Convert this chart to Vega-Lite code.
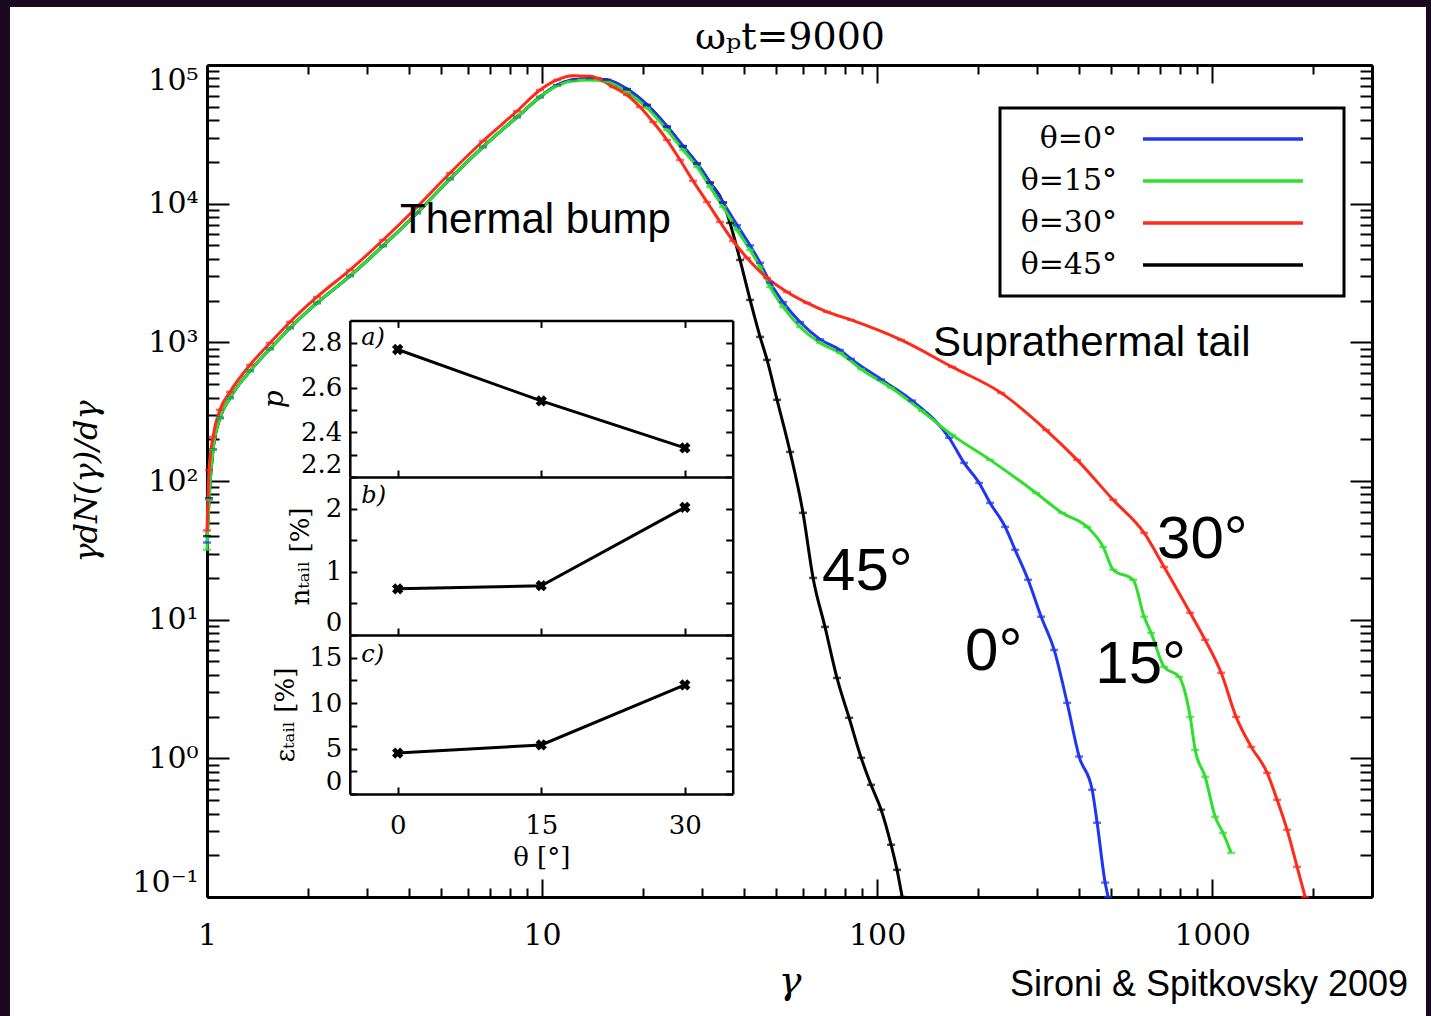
{
  "$schema": "https://vega.github.io/schema/vega-lite/v6.json",
  "width": 1416,
  "height": 1009,
  "autosize": {"type": "none"},
  "padding": {"left": 10, "top": 7, "right": 5, "bottom": 0},
  "background": "#1a0821",
  "config": {
    "view": {"fill": "white", "stroke": null},
    "axis": {"grid": false, "domainColor": "black", "tickColor": "black", "labelColor": "black", "titleColor": "black", "labelOverlap": false},
    "legend": {"labelColor": "black"}
  },
  "datasets": {
    "main": [
      {"s": "θ=45°", "g": 1.0, "v": 40}, {"s": "θ=45°", "g": 1.014, "v": 75}, {"s": "θ=45°", "g": 1.042, "v": 168}, {"s": "θ=45°", "g": 1.093, "v": 285}, {"s": "θ=45°", "g": 1.171, "v": 397}, {"s": "θ=45°", "g": 1.344, "v": 622}, {"s": "θ=45°", "g": 1.542, "v": 896}, {"s": "θ=45°", "g": 1.769, "v": 1270}, {"s": "θ=45°", "g": 2.13, "v": 1923}, {"s": "θ=45°", "g": 2.673, "v": 3013}, {"s": "θ=45°", "g": 3.353, "v": 4955}, {"s": "θ=45°", "g": 4.236, "v": 8570}, {"s": "θ=45°", "g": 5.313, "v": 15070}, {"s": "θ=45°", "g": 6.666, "v": 25650}, {"s": "θ=45°", "g": 8.421, "v": 42170}, {"s": "θ=45°", "g": 9.863, "v": 58750}, {"s": "θ=45°", "g": 11.09, "v": 71500}, {"s": "θ=45°", "g": 12.37, "v": 78000}, {"s": "θ=45°", "g": 13.91, "v": 79500}, {"s": "θ=45°", "g": 15.63, "v": 78000}, {"s": "θ=45°", "g": 17.93, "v": 67000}, {"s": "θ=45°", "g": 20.58, "v": 51500}, {"s": "θ=45°", "g": 23.61, "v": 36000}, {"s": "θ=45°", "g": 26.35, "v": 26000}, {"s": "θ=45°", "g": 29.02, "v": 19500}, {"s": "θ=45°", "g": 31.73, "v": 14200}, {"s": "θ=45°", "g": 34.7, "v": 10200}, {"s": "θ=45°", "g": 36.4, "v": 7260}, {"s": "θ=45°", "g": 38.99, "v": 3925}, {"s": "θ=45°", "g": 41.78, "v": 2021}, {"s": "θ=45°", "g": 44.75, "v": 1094}, {"s": "θ=45°", "g": 46.95, "v": 747}, {"s": "θ=45°", "g": 50.28, "v": 385}, {"s": "θ=45°", "g": 55.0, "v": 162}, {"s": "θ=45°", "g": 60.1, "v": 58.9}, {"s": "θ=45°", "g": 64.4, "v": 20.0}, {"s": "θ=45°", "g": 69.9, "v": 8.87}, {"s": "θ=45°", "g": 75.9, "v": 3.8}, {"s": "θ=45°", "g": 82.5, "v": 1.96}, {"s": "θ=45°", "g": 89.6, "v": 1.01}, {"s": "θ=45°", "g": 95.9, "v": 0.644}, {"s": "θ=45°", "g": 102.8, "v": 0.426}, {"s": "θ=45°", "g": 110.1, "v": 0.238}, {"s": "θ=45°", "g": 114.7, "v": 0.157}, {"s": "θ=45°", "g": 118.8, "v": 0.1},
      {"s": "θ=0°", "g": 1.0, "v": 36}, {"s": "θ=0°", "g": 1.014, "v": 74}, {"s": "θ=0°", "g": 1.042, "v": 168}, {"s": "θ=0°", "g": 1.093, "v": 285}, {"s": "θ=0°", "g": 1.171, "v": 397}, {"s": "θ=0°", "g": 1.344, "v": 622}, {"s": "θ=0°", "g": 1.542, "v": 896}, {"s": "θ=0°", "g": 1.769, "v": 1270}, {"s": "θ=0°", "g": 2.13, "v": 1923}, {"s": "θ=0°", "g": 2.673, "v": 3013}, {"s": "θ=0°", "g": 3.353, "v": 4955}, {"s": "θ=0°", "g": 4.236, "v": 8570}, {"s": "θ=0°", "g": 5.313, "v": 15070}, {"s": "θ=0°", "g": 6.666, "v": 25650}, {"s": "θ=0°", "g": 8.421, "v": 42170}, {"s": "θ=0°", "g": 9.863, "v": 58750}, {"s": "θ=0°", "g": 11.09, "v": 71500}, {"s": "θ=0°", "g": 12.37, "v": 78000}, {"s": "θ=0°", "g": 13.91, "v": 79500}, {"s": "θ=0°", "g": 15.63, "v": 78000}, {"s": "θ=0°", "g": 17.93, "v": 67000}, {"s": "θ=0°", "g": 20.58, "v": 51500}, {"s": "θ=0°", "g": 23.61, "v": 36000}, {"s": "θ=0°", "g": 26.35, "v": 26000}, {"s": "θ=0°", "g": 29.02, "v": 19500}, {"s": "θ=0°", "g": 31.73, "v": 14200}, {"s": "θ=0°", "g": 34.7, "v": 10200}, {"s": "θ=0°", "g": 38.21, "v": 7000}, {"s": "θ=0°", "g": 41.78, "v": 5000}, {"s": "θ=0°", "g": 44.75, "v": 3750}, {"s": "θ=0°", "g": 47.93, "v": 2700}, {"s": "θ=0°", "g": 52.4, "v": 1950}, {"s": "θ=0°", "g": 58.9, "v": 1400}, {"s": "θ=0°", "g": 67.6, "v": 1050}, {"s": "θ=0°", "g": 77.5, "v": 880}, {"s": "θ=0°", "g": 83.6, "v": 760}, {"s": "θ=0°", "g": 102.8, "v": 540}, {"s": "θ=0°", "g": 127.2, "v": 380}, {"s": "θ=0°", "g": 164.0, "v": 205}, {"s": "θ=0°", "g": 181.8, "v": 135}, {"s": "θ=0°", "g": 201.6, "v": 96.8}, {"s": "θ=0°", "g": 217.4, "v": 69.5}, {"s": "θ=0°", "g": 241.1, "v": 46.7}, {"s": "θ=0°", "g": 258.2, "v": 31.9}, {"s": "θ=0°", "g": 282.3, "v": 19.4}, {"s": "θ=0°", "g": 308.8, "v": 10.5}, {"s": "θ=0°", "g": 337.7, "v": 6.05}, {"s": "θ=0°", "g": 369.2, "v": 2.51}, {"s": "θ=0°", "g": 400.9, "v": 1.03}, {"s": "θ=0°", "g": 438.4, "v": 0.593}, {"s": "θ=0°", "g": 453.7, "v": 0.343}, {"s": "θ=0°", "g": 479.3, "v": 0.127}, {"s": "θ=0°", "g": 489.3, "v": 0.1},
      {"s": "θ=15°", "g": 1.0, "v": 31.9}, {"s": "θ=15°", "g": 1.014, "v": 73}, {"s": "θ=15°", "g": 1.042, "v": 168}, {"s": "θ=15°", "g": 1.093, "v": 285}, {"s": "θ=15°", "g": 1.171, "v": 397}, {"s": "θ=15°", "g": 1.344, "v": 622}, {"s": "θ=15°", "g": 1.542, "v": 896}, {"s": "θ=15°", "g": 1.769, "v": 1270}, {"s": "θ=15°", "g": 2.13, "v": 1923}, {"s": "θ=15°", "g": 2.673, "v": 3013}, {"s": "θ=15°", "g": 3.353, "v": 4955}, {"s": "θ=15°", "g": 4.236, "v": 8570}, {"s": "θ=15°", "g": 5.313, "v": 15070}, {"s": "θ=15°", "g": 6.666, "v": 25650}, {"s": "θ=15°", "g": 8.421, "v": 42170}, {"s": "θ=15°", "g": 9.863, "v": 58750}, {"s": "θ=15°", "g": 11.09, "v": 70650}, {"s": "θ=15°", "g": 12.37, "v": 76750}, {"s": "θ=15°", "g": 13.91, "v": 77950}, {"s": "θ=15°", "g": 15.63, "v": 75400}, {"s": "θ=15°", "g": 17.93, "v": 63850}, {"s": "θ=15°", "g": 20.58, "v": 48950}, {"s": "θ=15°", "g": 23.61, "v": 33980}, {"s": "θ=15°", "g": 26.35, "v": 24380}, {"s": "θ=15°", "g": 29.02, "v": 18390}, {"s": "θ=15°", "g": 31.73, "v": 13190}, {"s": "θ=15°", "g": 34.7, "v": 9460}, {"s": "θ=15°", "g": 38.21, "v": 6460}, {"s": "θ=15°", "g": 41.78, "v": 4630}, {"s": "θ=15°", "g": 44.75, "v": 3496}, {"s": "θ=15°", "g": 47.93, "v": 2507}, {"s": "θ=15°", "g": 52.4, "v": 1799}, {"s": "θ=15°", "g": 58.9, "v": 1291}, {"s": "θ=15°", "g": 67.6, "v": 990}, {"s": "θ=15°", "g": 77.5, "v": 839}, {"s": "θ=15°", "g": 89.6, "v": 640}, {"s": "θ=15°", "g": 110.1, "v": 470}, {"s": "θ=15°", "g": 136.2, "v": 320}, {"s": "θ=15°", "g": 167.4, "v": 215}, {"s": "θ=15°", "g": 217.4, "v": 142}, {"s": "θ=15°", "g": 298.3, "v": 82}, {"s": "θ=15°", "g": 356.6, "v": 58.9}, {"s": "θ=15°", "g": 423.6, "v": 46.7}, {"s": "θ=15°", "g": 472.8, "v": 33.5}, {"s": "θ=15°", "g": 506.4, "v": 22.9}, {"s": "θ=15°", "g": 581, "v": 19.4}, {"s": "θ=15°", "g": 626.6, "v": 10.5}, {"s": "θ=15°", "g": 657.4, "v": 8.03}, {"s": "θ=15°", "g": 719, "v": 4.57}, {"s": "θ=15°", "g": 797, "v": 3.87}, {"s": "θ=15°", "g": 860, "v": 1.99}, {"s": "θ=15°", "g": 890, "v": 1.15}, {"s": "θ=15°", "g": 953, "v": 0.736}, {"s": "θ=15°", "g": 1021, "v": 0.379}, {"s": "θ=15°", "g": 1078, "v": 0.29}, {"s": "θ=15°", "g": 1139, "v": 0.208},
      {"s": "θ=30°", "g": 1.0, "v": 44}, {"s": "θ=30°", "g": 1.014, "v": 120}, {"s": "θ=30°", "g": 1.042, "v": 208}, {"s": "θ=30°", "g": 1.093, "v": 326}, {"s": "θ=30°", "g": 1.171, "v": 439}, {"s": "θ=30°", "g": 1.344, "v": 687}, {"s": "θ=30°", "g": 1.542, "v": 990}, {"s": "θ=30°", "g": 1.769, "v": 1403}, {"s": "θ=30°", "g": 2.13, "v": 2125}, {"s": "θ=30°", "g": 2.673, "v": 3327}, {"s": "θ=30°", "g": 3.353, "v": 5470}, {"s": "θ=30°", "g": 4.236, "v": 9460}, {"s": "θ=30°", "g": 5.313, "v": 16630}, {"s": "θ=30°", "g": 6.666, "v": 28300}, {"s": "θ=30°", "g": 8.421, "v": 46500}, {"s": "θ=30°", "g": 9.863, "v": 66000}, {"s": "θ=30°", "g": 11.09, "v": 78000}, {"s": "θ=30°", "g": 12.37, "v": 83500}, {"s": "θ=30°", "g": 13.91, "v": 83000}, {"s": "θ=30°", "g": 14.6, "v": 80500}, {"s": "θ=30°", "g": 16.29, "v": 69350}, {"s": "θ=30°", "g": 17.93, "v": 60800}, {"s": "θ=30°", "g": 19.61, "v": 49800}, {"s": "θ=30°", "g": 21.45, "v": 38800}, {"s": "θ=30°", "g": 23.61, "v": 28770}, {"s": "θ=30°", "g": 25.82, "v": 20650}, {"s": "θ=30°", "g": 28.23, "v": 14590}, {"s": "θ=30°", "g": 31.08, "v": 10280}, {"s": "θ=30°", "g": 33.99, "v": 7380}, {"s": "θ=30°", "g": 37.17, "v": 5380}, {"s": "θ=30°", "g": 40.92, "v": 4060}, {"s": "θ=30°", "g": 46.95, "v": 2914}, {"s": "θ=30°", "g": 53.86, "v": 2307}, {"s": "θ=30°", "g": 61.8, "v": 1923}, {"s": "θ=30°", "g": 70.9, "v": 1656}, {"s": "θ=30°", "g": 83.6, "v": 1451}, {"s": "θ=30°", "g": 117.9, "v": 1041}, {"s": "θ=30°", "g": 167.4, "v": 665}, {"s": "θ=30°", "g": 234.5, "v": 432}, {"s": "θ=30°", "g": 319.6, "v": 233}, {"s": "θ=30°", "g": 395.4, "v": 142}, {"s": "θ=30°", "g": 506.4, "v": 73.1}, {"s": "θ=30°", "g": 626.6, "v": 42.2}, {"s": "θ=30°", "g": 719, "v": 24.0}, {"s": "θ=30°", "g": 860, "v": 11.2}, {"s": "θ=30°", "g": 953, "v": 7.15}, {"s": "θ=30°", "g": 1064, "v": 4.14}, {"s": "θ=30°", "g": 1179, "v": 1.99}, {"s": "θ=30°", "g": 1308, "v": 1.21}, {"s": "θ=30°", "g": 1460, "v": 0.786}, {"s": "θ=30°", "g": 1563, "v": 0.502}, {"s": "θ=30°", "g": 1674, "v": 0.305}, {"s": "θ=30°", "g": 1793, "v": 0.165}, {"s": "θ=30°", "g": 1895, "v": 0.1}
    ],
    "ann42": [
      {"t": "Thermal bump", "g": 3.77, "v": 7620},
      {"t": "Suprathermal tail", "g": 146.9, "v": 991}
    ],
    "ann60": [
      {"t": "45°", "g": 68.5, "v": 22.1},
      {"t": "30°", "g": 685, "v": 37.6},
      {"t": "0°", "g": 183, "v": 5.87},
      {"t": "15°", "g": 448, "v": 4.72}
    ],
    "credit": [
      {"t": "Sironi & Spitkovsky 2009", "g": 3846, "v": 0.0233}
    ],
    "inset": [
      {"theta": 0, "p": 2.77, "n": 0.73, "e": 4.5},
      {"theta": 15, "p": 2.54, "n": 0.78, "e": 5.4},
      {"theta": 30, "p": 2.33, "n": 2.02, "e": 12.0}
    ]
  },
  "layer": [
    {
      "resolve": {"axis": {"x": "independent", "y": "independent"}},
      "layer": [
        {
          "data": {"name": "main"},
          "mark": {"type": "line", "strokeWidth": 3, "interpolate": "monotone", "clip": true},
          "encoding": {
            "x": {"field": "g", "type": "quantitative",
              "scale": {"type": "log", "domain": [1, 3000], "range": [197, 1362], "nice": false},
              "axis": {"orient": "bottom", "offset": -119, "values": [1, 10, 100, 1000], "format": "d", "tickSize": -18, "tickWidth": 2, "domainWidth": 3, "labelPadding": 41, "labelFont": "DejaVu Serif", "labelFontSize": 30, "labelFlush": false, "title": "γ", "titleFont": "DejaVu Serif", "titleFontStyle": "italic", "titleFontSize": 38, "titleFontWeight": "normal", "titlePadding": 12}},
            "y": {"field": "v", "type": "quantitative",
              "scale": {"type": "log", "domain": [0.1, 100000], "range": [890, 58], "nice": false},
              "axis": {"orient": "left", "offset": -197, "values": [0.1, 1, 10, 100, 1000, 10000, 100000], "labelExpr": "'10' + ['⁻¹','⁰','¹','²','³','⁴','⁵'][round(log(datum.value)/LN10)+1]", "tickSize": -22, "tickWidth": 2, "domainWidth": 3, "labelPadding": 31, "labelFont": "DejaVu Serif", "labelFontSize": 30, "labelFlush": true, "title": "γdN(γ)/dγ", "titleFont": "DejaVu Serif", "titleFontStyle": "italic", "titleFontSize": 32, "titleFontWeight": "normal", "titlePadding": 28}},
            "color": {"field": "s", "type": "nominal",
              "scale": {"domain": ["θ=0°", "θ=15°", "θ=30°", "θ=45°"], "range": ["#2036f0", "#2ee02e", "#ff2a1a", "#000000"]},
              "legend": {"orient": "none", "legendX": 990, "legendY": 101, "title": null, "symbolType": "M 11.2 0 L 27.2 0 M 29 0", "symbolSize": 400, "symbolStrokeWidth": 3.5, "labelFont": "DejaVu Serif", "labelFontSize": 30, "labelAlign": "right", "labelOffset": 71, "strokeColor": "black", "padding": 16, "rowPadding": 12, "fillColor": "white",
                "encode": {"legend": {"update": {"strokeWidth": {"value": 3}}}}}}
          }
        },
        {
          "data": {"name": "main"},
          "mark": {"type": "tick", "orient": "horizontal", "size": 8, "thickness": 2.5, "clip": true},
          "encoding": {
            "x": {"field": "g", "type": "quantitative",
              "scale": {"type": "log", "domain": [1, 3000], "range": [197, 1362], "nice": false},
              "axis": {"orient": "bottom", "offset": -119, "values": [2, 3, 4, 5, 6, 7, 8, 9, 20, 30, 40, 50, 60, 70, 80, 90, 200, 300, 400, 500, 600, 700, 800, 900, 2000, 3000], "tickSize": -9, "tickWidth": 2, "domain": false, "labels": false, "title": null}},
            "y": {"field": "v", "type": "quantitative",
              "scale": {"type": "log", "domain": [0.1, 100000], "range": [890, 58], "nice": false},
              "axis": {"orient": "left", "offset": -197, "values": [0.2, 0.3, 0.4, 0.5, 0.6, 0.7, 0.8, 0.9, 2, 3, 4, 5, 6, 7, 8, 9, 20, 30, 40, 50, 60, 70, 80, 90, 200, 300, 400, 500, 600, 700, 800, 900, 2000, 3000, 4000, 5000, 6000, 7000, 8000, 9000, 20000, 30000, 40000, 50000, 60000, 70000, 80000, 90000], "tickSize": -12, "tickWidth": 2, "domain": false, "labels": false, "title": null}},
            "color": {"field": "s", "type": "nominal",
              "scale": {"domain": ["θ=0°", "θ=15°", "θ=30°", "θ=45°"], "range": ["#2036f0", "#2ee02e", "#ff2a1a", "#000000"]}}
          }
        },
        {
          "data": {"name": "ann42"},
          "mark": {"type": "text", "font": "Liberation Sans", "fontSize": 42, "align": "left", "baseline": "middle", "color": "black"},
          "encoding": {
            "x": {"field": "g", "type": "quantitative",
              "scale": {"type": "log", "domain": [1, 3000], "range": [197, 1362], "nice": false},
              "axis": {"orient": "top", "offset": -58, "values": [1, 10, 100, 1000], "tickSize": -18, "tickWidth": 2, "domainWidth": 3, "labels": false, "title": "ωₚt=9000", "titleFont": "DejaVu Serif", "titleFontSize": 38, "titleFontWeight": "normal", "titlePadding": 8}},
            "y": {"field": "v", "type": "quantitative",
              "scale": {"type": "log", "domain": [0.1, 100000], "range": [890, 58], "nice": false},
              "axis": {"orient": "right", "offset": -54, "values": [0.1, 1, 10, 100, 1000, 10000, 100000], "tickSize": -22, "tickWidth": 2, "domainWidth": 3, "labels": false, "title": null}},
            "text": {"field": "t"}
          }
        },
        {
          "data": {"name": "ann60"},
          "mark": {"type": "text", "font": "Liberation Sans", "fontSize": 60, "align": "left", "baseline": "middle", "color": "black"},
          "encoding": {
            "x": {"field": "g", "type": "quantitative",
              "scale": {"type": "log", "domain": [1, 3000], "range": [197, 1362], "nice": false},
              "axis": {"orient": "top", "offset": -58, "values": [2, 3, 4, 5, 6, 7, 8, 9, 20, 30, 40, 50, 60, 70, 80, 90, 200, 300, 400, 500, 600, 700, 800, 900, 2000, 3000], "tickSize": -9, "tickWidth": 2, "domain": false, "labels": false, "title": null}},
            "y": {"field": "v", "type": "quantitative",
              "scale": {"type": "log", "domain": [0.1, 100000], "range": [890, 58], "nice": false},
              "axis": {"orient": "right", "offset": -54, "values": [0.2, 0.3, 0.4, 0.5, 0.6, 0.7, 0.8, 0.9, 2, 3, 4, 5, 6, 7, 8, 9, 20, 30, 40, 50, 60, 70, 80, 90, 200, 300, 400, 500, 600, 700, 800, 900, 2000, 3000, 4000, 5000, 6000, 7000, 8000, 9000, 20000, 30000, 40000, 50000, 60000, 70000, 80000, 90000], "tickSize": -12, "tickWidth": 2, "domain": false, "labels": false, "title": null}},
            "text": {"field": "t"}
          }
        },
        {
          "data": {"name": "credit"},
          "mark": {"type": "text", "font": "Liberation Sans", "fontSize": 36, "align": "right", "baseline": "middle", "color": "black"},
          "encoding": {
            "x": {"field": "g", "type": "quantitative", "scale": {"type": "log", "domain": [1, 3000], "range": [197, 1362], "nice": false}, "axis": null},
            "y": {"field": "v", "type": "quantitative", "scale": {"type": "log", "domain": [0.1, 100000], "range": [890, 58], "nice": false}, "axis": null},
            "text": {"field": "t"}
          }
        }
      ]
    },
    {
      "resolve": {"axis": {"x": "independent", "y": "independent"}},
      "layer": [
        {
          "data": {"name": "inset"},
          "mark": {"type": "line", "color": "black", "strokeWidth": 3},
          "encoding": {
            "x": {"field": "theta", "type": "quantitative", "scale": {"domain": [-5, 35], "range": [339.8, 722.7], "nice": false, "zero": false},
              "axis": {"orient": "bottom", "offset": -539, "values": [0, 15, 30], "tickSize": -7, "tickWidth": 2, "domainWidth": 2.5, "labels": false, "title": null}},
            "y": {"field": "p", "type": "quantitative", "scale": {"domain": [2.2, 2.9], "range": [470, 313.4], "nice": false, "zero": false},
              "axis": {"orient": "left", "offset": -339.8, "values": [2.2, 2.3, 2.4, 2.5, 2.6, 2.7, 2.8], "labelExpr": "round(datum.value*10) % 2 == 0 ? format(datum.value, '.1f') : ''", "tickSize": -7, "tickWidth": 2, "domainWidth": 2.5, "labelPadding": 15, "labelFont": "DejaVu Serif", "labelFontSize": 26, "labelFlush": true, "title": "p", "titleFont": "DejaVu Serif", "titleFontStyle": "italic", "titleFontSize": 28, "titleFontWeight": "normal", "titlePadding": 12}}
          }
        },
        {
          "data": {"name": "inset"},
          "mark": {"type": "point", "shape": "cross", "filled": true, "color": "black", "size": 130, "angle": 45, "opacity": 1},
          "encoding": {
            "x": {"field": "theta", "type": "quantitative", "scale": {"domain": [-5, 35], "range": [339.8, 722.7], "nice": false, "zero": false},
              "axis": {"orient": "top", "offset": -313.4, "values": [0, 15, 30], "tickSize": -7, "tickWidth": 2, "domainWidth": 2.5, "labels": false, "title": null}},
            "y": {"field": "p", "type": "quantitative", "scale": {"domain": [2.2, 2.9], "range": [470, 313.4], "nice": false, "zero": false},
              "axis": {"orient": "right", "offset": -693.3, "values": [2.2, 2.3, 2.4, 2.5, 2.6, 2.7, 2.8], "tickSize": -7, "tickWidth": 2, "domainWidth": 2.5, "labels": false, "title": null}}
          }
        },
        {
          "data": {"values": [{"t": "a)", "theta": -3.8, "p": 2.82}]},
          "mark": {"type": "text", "font": "DejaVu Serif", "fontStyle": "italic", "fontSize": 24, "align": "left", "baseline": "middle", "color": "black"},
          "encoding": {
            "x": {"field": "theta", "type": "quantitative", "scale": {"domain": [-5, 35], "range": [339.8, 722.7], "nice": false, "zero": false}, "axis": null},
            "y": {"field": "p", "type": "quantitative", "scale": {"domain": [2.2, 2.9], "range": [470, 313.4], "nice": false, "zero": false}, "axis": null},
            "text": {"field": "t"}
          }
        }
      ]
    },
    {
      "resolve": {"axis": {"x": "independent", "y": "independent"}},
      "layer": [
        {
          "data": {"name": "inset"},
          "mark": {"type": "line", "color": "black", "strokeWidth": 3},
          "encoding": {
            "x": {"field": "theta", "type": "quantitative", "scale": {"domain": [-5, 35], "range": [339.8, 722.7], "nice": false, "zero": false},
              "axis": {"orient": "bottom", "offset": -381, "values": [0, 15, 30], "tickSize": -7, "tickWidth": 2, "domainWidth": 2.5, "labels": false, "title": null}},
            "y": {"field": "n", "type": "quantitative", "scale": {"domain": [0, 2.5], "range": [628, 470], "nice": false, "zero": false},
              "axis": {"orient": "left", "offset": -339.8, "values": [0, 0.5, 1, 1.5, 2], "labelExpr": "datum.value % 1 == 0 ? format(datum.value, 'd') : ''", "tickSize": -7, "tickWidth": 2, "domainWidth": 2.5, "labelPadding": 15, "labelFont": "DejaVu Serif", "labelFontSize": 26, "labelFlush": true, "title": "nₜₐᵢₗ [%]", "titleFont": "DejaVu Serif", "titleFontSize": 26, "titleFontWeight": "normal", "titlePadding": 12}}
          }
        },
        {
          "data": {"name": "inset"},
          "mark": {"type": "point", "shape": "cross", "filled": true, "color": "black", "size": 130, "angle": 45, "opacity": 1},
          "encoding": {
            "x": {"field": "theta", "type": "quantitative", "scale": {"domain": [-5, 35], "range": [339.8, 722.7], "nice": false, "zero": false}, "axis": null},
            "y": {"field": "n", "type": "quantitative", "scale": {"domain": [0, 2.5], "range": [628, 470], "nice": false, "zero": false},
              "axis": {"orient": "right", "offset": -693.3, "values": [0, 0.5, 1, 1.5, 2], "tickSize": -7, "tickWidth": 2, "domainWidth": 2.5, "labels": false, "title": null}}
          }
        },
        {
          "data": {"values": [{"t": "b)", "theta": -3.8, "n": 2.2}]},
          "mark": {"type": "text", "font": "DejaVu Serif", "fontStyle": "italic", "fontSize": 24, "align": "left", "baseline": "middle", "color": "black"},
          "encoding": {
            "x": {"field": "theta", "type": "quantitative", "scale": {"domain": [-5, 35], "range": [339.8, 722.7], "nice": false, "zero": false}, "axis": null},
            "y": {"field": "n", "type": "quantitative", "scale": {"domain": [0, 2.5], "range": [628, 470], "nice": false, "zero": false}, "axis": null},
            "text": {"field": "t"}
          }
        }
      ]
    },
    {
      "resolve": {"axis": {"x": "independent", "y": "independent"}},
      "layer": [
        {
          "data": {"name": "inset"},
          "mark": {"type": "line", "color": "black", "strokeWidth": 3},
          "encoding": {
            "x": {"field": "theta", "type": "quantitative", "scale": {"domain": [-5, 35], "range": [339.8, 722.7], "nice": false, "zero": false},
              "axis": {"orient": "bottom", "offset": -222, "values": [0, 15, 30], "tickSize": -7, "tickWidth": 2, "domainWidth": 2.5, "labelPadding": 25, "labelFont": "DejaVu Serif", "labelFontSize": 26, "labelFlush": false, "title": "θ [°]", "titleFont": "DejaVu Serif", "titleFontSize": 26, "titleFontWeight": "normal", "titlePadding": 6}},
            "y": {"field": "e", "type": "quantitative", "scale": {"domain": [0, 17.5], "range": [787, 628], "nice": false, "zero": false},
              "axis": {"orient": "left", "offset": -339.8, "values": [0, 2.5, 5, 7.5, 10, 12.5, 15], "labelExpr": "datum.value % 5 == 0 ? format(datum.value, 'd') : ''", "tickSize": -7, "tickWidth": 2, "domainWidth": 2.5, "labelPadding": 15, "labelFont": "DejaVu Serif", "labelFontSize": 26, "labelFlush": true, "title": "εₜₐᵢₗ [%]", "titleFont": "DejaVu Serif", "titleFontSize": 26, "titleFontWeight": "normal", "titlePadding": 10}}
          }
        },
        {
          "data": {"name": "inset"},
          "mark": {"type": "point", "shape": "cross", "filled": true, "color": "black", "size": 130, "angle": 45, "opacity": 1},
          "encoding": {
            "x": {"field": "theta", "type": "quantitative", "scale": {"domain": [-5, 35], "range": [339.8, 722.7], "nice": false, "zero": false}, "axis": null},
            "y": {"field": "e", "type": "quantitative", "scale": {"domain": [0, 17.5], "range": [787, 628], "nice": false, "zero": false},
              "axis": {"orient": "right", "offset": -693.3, "values": [0, 2.5, 5, 7.5, 10, 12.5, 15], "tickSize": -7, "tickWidth": 2, "domainWidth": 2.5, "labels": false, "title": null}}
          }
        },
        {
          "data": {"values": [{"t": "c)", "theta": -3.8, "e": 15.3}]},
          "mark": {"type": "text", "font": "DejaVu Serif", "fontStyle": "italic", "fontSize": 24, "align": "left", "baseline": "middle", "color": "black"},
          "encoding": {
            "x": {"field": "theta", "type": "quantitative", "scale": {"domain": [-5, 35], "range": [339.8, 722.7], "nice": false, "zero": false}, "axis": null},
            "y": {"field": "e", "type": "quantitative", "scale": {"domain": [0, 17.5], "range": [787, 628], "nice": false, "zero": false}, "axis": null},
            "text": {"field": "t"}
          }
        }
      ]
    }
  ],
  "resolve": {"scale": {"x": "independent", "y": "independent"}, "axis": {"x": "independent", "y": "independent"}}
}
